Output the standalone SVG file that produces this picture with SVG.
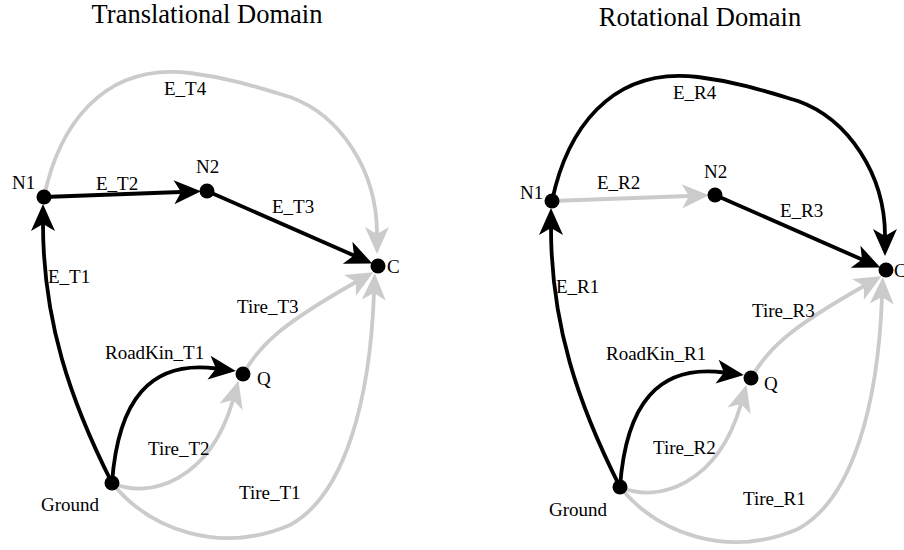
<svg xmlns="http://www.w3.org/2000/svg" width="904" height="550" viewBox="0 0 904 550">
<style>
text{font-family:"Liberation Serif","Times New Roman",serif;font-size:19px;fill:#000}
.title{font-size:26.5px;text-anchor:middle}
.e{fill:none;stroke-width:3.8;stroke-linecap:round}
.k{stroke:#000;marker-end:url(#ak)}
.g{stroke:#cbcbcb;marker-end:url(#ag)}
.n{fill:#000}
</style>
<defs>
<marker id="ak" markerUnits="userSpaceOnUse" markerWidth="27" markerHeight="24" refX="7" refY="12" orient="auto" overflow="visible"><path d="M0,0 L27,12 L0,24 L7,12 Z" fill="#000"/></marker>
<marker id="ag" markerUnits="userSpaceOnUse" markerWidth="27" markerHeight="24" refX="7" refY="12" orient="auto" overflow="visible"><path d="M0,0 L27,12 L0,24 L7,12 Z" fill="#cbcbcb"/></marker>
</defs>
<rect width="904" height="550" fill="#fff"/>
<text class="title" x="207" y="23">Translational Domain</text>
<text class="title" x="700" y="26">Rotational Domain</text>

<g id="connectors">
<!-- Translational -->
<path id="E_T4" class="e g" d="M44,197 C58,130 100,62 190,73 C230,78 260,88 290,97 C340,115 377,170 377,234"/>
<path id="E_T1" class="e k" d="M112,483 C70,400 43,320 43,224"/>
<path id="E_T2" class="e k" d="M44,197 L181,192"/>
<path id="E_T3" class="e k" d="M207,191 L354,255.5"/>
<path id="Tire_T1" class="e g" d="M112,483 C150,530 220,555 290,525 C345,495 370,400 374,293"/>
<path id="Tire_T2" class="e g" d="M112,483 C150,500 210,480 233,400"/>
<path id="Tire_T3" class="e g" d="M243,374 C260,345 280,325 356,282"/>
<path id="RoadKin_T1" class="e k" d="M112,483 C118,400 150,360 216,368.5"/>
<!-- Rotational -->
<path id="E_R2" class="e g" d="M552,201 L689,196"/>
<path id="E_R4" class="e k" d="M552,201 C566,134 608,66 698,77 C738,82 768,92 798,101 C848,119 885,174 885,236"/>
<path id="E_R1" class="e k" d="M620,487 C578,404 551,324 551,228"/>
<path id="E_R3" class="e k" d="M715,195 L862,259.5"/>
<path id="Tire_R1" class="e g" d="M620,487 C658,534 728,559 798,529 C853,499 878,404 882,297"/>
<path id="Tire_R2" class="e g" d="M620,487 C658,504 718,484 741,404"/>
<path id="Tire_R3" class="e g" d="M751,378 C768,349 788,329 864,286"/>
<path id="RoadKin_R1" class="e k" d="M620,487 C626,404 658,364 724,372.5"/>
</g>

<g id="edge-labels">
<text x="164" y="95">E_T4</text>
<text x="96" y="190">E_T2</text>
<text x="272" y="213">E_T3</text>
<text x="48" y="283">E_T1</text>
<text x="237" y="313">Tire_T3</text>
<text x="105" y="359">RoadKin_T1</text>
<text x="148" y="455">Tire_T2</text>
<text x="239" y="499">Tire_T1</text>
<text x="673" y="99">E_R4</text>
<text x="597" y="189">E_R2</text>
<text x="780" y="217">E_R3</text>
<text x="556" y="293">E_R1</text>
<text x="752" y="317">Tire_R3</text>
<text x="606" y="360">RoadKin_R1</text>
<text x="653" y="454">Tire_R2</text>
<text x="743" y="505">Tire_R1</text>
</g>

<g id="T_N1"><circle class="n" cx="44" cy="197" r="7.5"/><text x="12" y="189">N1</text></g>
<g id="T_N2"><circle class="n" cx="207" cy="191" r="7.5"/><text x="196" y="173">N2</text></g>
<g id="T_C"><circle class="n" cx="378" cy="266" r="7.5"/><text x="387" y="273">C</text></g>
<g id="T_Q"><circle class="n" cx="243" cy="374" r="7.5"/><text x="257" y="385">Q</text></g>
<g id="T_Ground"><circle class="n" cx="112" cy="483" r="7.5"/><text x="41" y="511">Ground</text></g>

<g id="R_N1"><circle class="n" cx="552" cy="201" r="7.5"/><text x="520" y="199">N1</text></g>
<g id="R_N2"><circle class="n" cx="715" cy="195" r="7.5"/><text x="704" y="178">N2</text></g>
<g id="R_C"><circle class="n" cx="886" cy="270" r="7.5"/><text x="894" y="277">C</text></g>
<g id="R_Q"><circle class="n" cx="751" cy="378" r="7.5"/><text x="764" y="390">Q</text></g>
<g id="R_Ground"><circle class="n" cx="620" cy="487" r="7.5"/><text x="549" y="516">Ground</text></g>
</svg>
